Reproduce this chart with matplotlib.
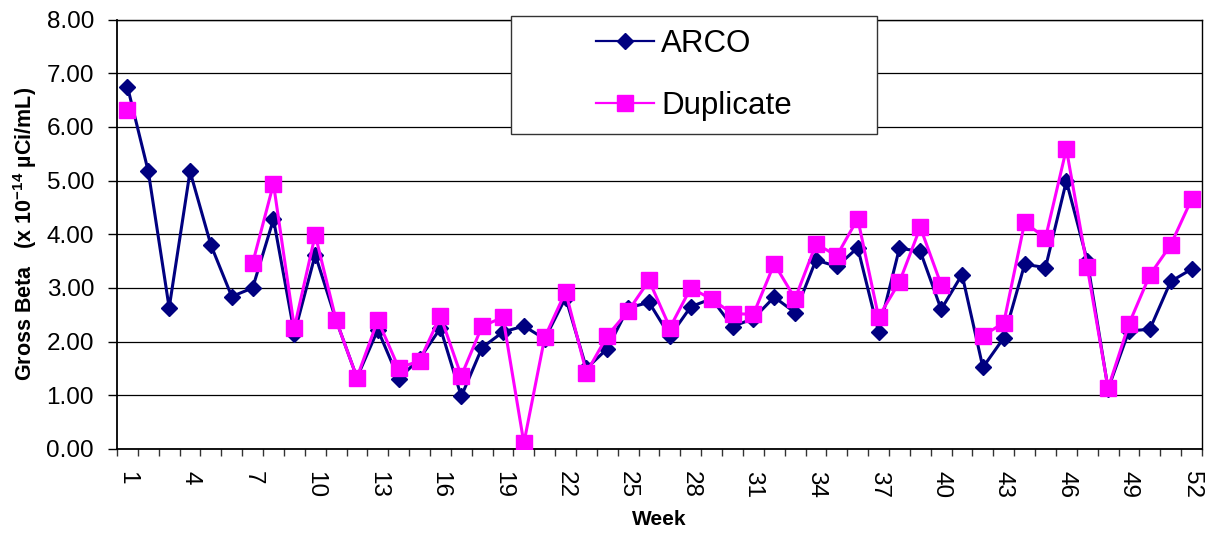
import numpy as np
import matplotlib
matplotlib.use("Agg")
import matplotlib.pyplot as plt
from matplotlib.lines import Line2D
from matplotlib.patches import Rectangle
from matplotlib.ticker import FixedLocator, FormatStrFormatter

plt.rcParams["font.family"] = ["Liberation Sans", "DejaVu Sans"]
plt.rcParams["mathtext.fontset"] = "custom"
plt.rcParams["mathtext.rm"] = "Liberation Sans"
plt.rcParams["mathtext.bf"] = "Liberation Sans:bold"
plt.rcParams["mathtext.default"] = "bf"

# Weekly gross beta results (x 10^-14 uCi/mL); None = no sample that week
weeks = list(range(1, 53))
arco = [6.75, 5.17, 2.63, 5.17, 3.80, 2.84, 3.00, 4.28, 2.15, 3.62,
        2.40, 1.33, 2.22, 1.31, 1.68, 2.25, 0.98, 1.89, 2.18, 2.29,
        2.05, 2.82, 1.50, 1.87, 2.63, 2.73, 2.10, 2.65, 2.80, 2.28,
        2.43, 2.83, 2.54, 3.52, 3.40, 3.75, 2.18, 3.74, 3.68, 2.60,
        3.25, 1.52, 2.07, 3.44, 3.38, 4.99, 3.51, 1.12, 2.20, 2.23,
        3.12, 3.35]
duplicate = [6.31, None, None, None, None, None, 3.46, 4.94, 2.26, 3.99,
             2.40, 1.33, 2.40, 1.51, 1.64, 2.48, 1.36, 2.29, 2.45, 0.11,
             2.08, 2.93, 1.42, 2.11, 2.57, 3.14, 2.26, 3.00, 2.79, 2.52,
             2.51, 3.45, 2.80, 3.82, 3.60, 4.29, 2.46, 3.11, 4.13, 3.06,
             None, 2.11, 2.35, 4.22, 3.93, 5.59, 3.39, 1.13, 2.33, 3.24,
             3.80, 4.65]
week_labels = list(range(1, 53, 3))
y_ticks = [0, 1, 2, 3, 4, 5, 6, 7, 8]
series_names = ["ARCO", "Duplicate"]

navy = "#000080"
magenta = "#FF00FF"

fig = plt.figure(figsize=(12.05, 5.33), dpi=100)
ax = fig.add_axes([0.0971, 0.1576, 0.9004, 0.8058])

x = np.array(weeks, dtype=float)
ax.plot(x, np.array(arco, dtype=float), color=navy, lw=2.2, marker="D",
        ms=8.5, mfc=navy, mec=navy, mew=1, zorder=3)
ax.plot(x, np.array(duplicate, dtype=float), color=magenta, lw=2.2,
        marker="s", ms=11.5, mfc=magenta, mec=magenta, mew=1, zorder=4)

ax.set_xlim(0.5, 52.5)
ax.set_ylim(0, 8)

# y axis
ax.yaxis.set_major_locator(FixedLocator(y_ticks))
ax.yaxis.set_major_formatter(FormatStrFormatter("%.2f"))
ax.tick_params(axis="y", which="major", direction="out", length=6.5,
               width=1, pad=10, labelsize=17.5, colors="black")
ax.grid(axis="y", color="black", lw=0.9, zorder=1)

# x axis: ticks between weeks, labels every third week
ax.xaxis.set_major_locator(FixedLocator(week_labels))
ax.set_xticklabels([str(w) for w in week_labels], rotation=270,
                   ha="center", va="top")
ax.xaxis.set_minor_locator(FixedLocator(np.arange(0.5, 53.0, 1.0)))
ax.tick_params(axis="x", which="major", length=0, pad=15.5, labelsize=17.5)
ax.tick_params(axis="x", which="minor", direction="out", length=5,
               width=1, color="#333333")

for sp in ax.spines.values():
    sp.set_color("black")
    sp.set_linewidth(1.0)
ax.spines["left"].set_linewidth(1.3)
ax.spines["bottom"].set_linewidth(1.3)

ax.set_ylabel("Gross Beta   (x 10$^{-14}$ µCi/mL)", fontsize=15.5,
              fontweight="bold")
ax.yaxis.set_label_coords(-0.072, 0.5)
ax.set_xlabel("Week", fontsize=15, fontweight="bold")
ax.xaxis.set_label_coords(0.5, -0.143)

# Legend box
fig.add_artist(Rectangle((0.4241, 0.7486), 0.3037, 0.2214,
                         transform=fig.transFigure, facecolor="white",
                         edgecolor="#333333", lw=1.0, zorder=3))
handles = [
    Line2D([], [], color=navy, lw=1.6, marker="D", ms=8.5, mfc=navy,
           mec=navy),
    Line2D([], [], color=magenta, lw=1.6, marker="s", ms=11.5,
           mfc=magenta, mec=magenta),
]
fig.legend(handles, series_names, loc="center",
           bbox_to_anchor=(0.5759, 0.8593), frameon=False, fontsize=22.5,
           handlelength=1.85, handletextpad=0.25, labelspacing=1.05,
           borderpad=0.0)

fig.savefig("out.png", dpi=100, facecolor="white")
